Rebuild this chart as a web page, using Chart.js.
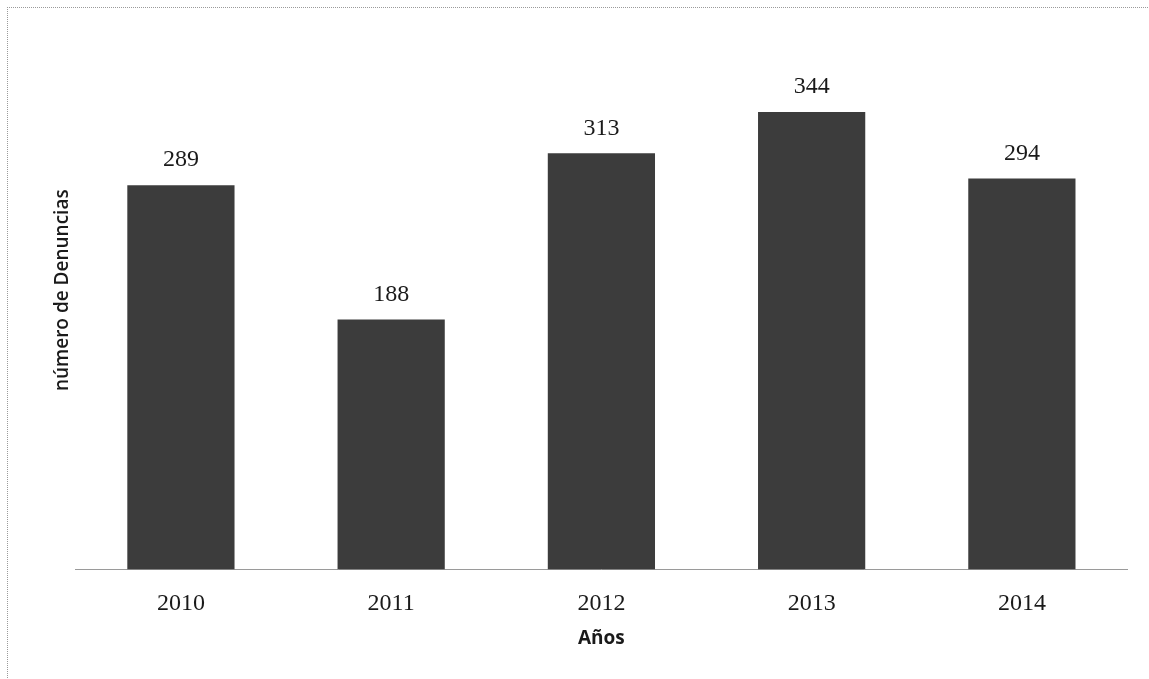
<!DOCTYPE html>
<html>
<head>
<meta charset="utf-8">
<script src="https://cdn.jsdelivr.net/npm/chart.js@4.4.1/dist/chart.umd.min.js"></script>
<style>
  html, body { margin: 0; padding: 0; background: #fff; }
  #wrap {
    position: absolute; left: 7px; top: 7px; width: 1142px; height: 672px;
    border-top: 1px dotted #9a9a9a; border-left: 1px dotted #9a9a9a;
  }
  #holder { position: absolute; left: -8px; top: -8px; width: 1149px; height: 679px; }
</style>
</head>
<body>
<div id="wrap"><div id="holder"><canvas id="chart"></canvas></div></div>
<script>
// Data
const years = ["2010", "2011", "2012", "2013", "2014"];
const denuncias = [289, 188, 313, 344, 294];

const xTitle = "Años";
const yTitle = "número de Denuncias";

const serif = '"Liberation Serif", "DejaVu Serif", serif';
const sans = '"Open Sans", "DejaVu Sans", sans-serif';

// Draw value above each bar
const valueLabels = {
  id: "valueLabels",
  afterDatasetsDraw(chart) {
    const ctx = chart.ctx;
    const meta = chart.getDatasetMeta(0);
    ctx.save();
    ctx.font = "24px " + serif;
    ctx.fillStyle = "#1a1a1a";
    ctx.textAlign = "center";
    ctx.textBaseline = "middle";
    meta.data.forEach((bar, i) => {
      ctx.fillText(String(denuncias[i]), bar.x, bar.y - 25);
    });
    ctx.restore();
  }
};

new Chart(document.getElementById("chart"), {
  type: "bar",
  data: {
    labels: years,
    datasets: [{
      label: yTitle,
      data: denuncias,
      backgroundColor: "#3c3c3c",
      borderWidth: 0,
      categoryPercentage: 1,
      barPercentage: 0.51
    }]
  },
  options: {
    responsive: true,
    maintainAspectRatio: false,
    animation: false,
    layout: {
      padding: { top: 11, right: 22, bottom: 29, left: 47 }
    },
    plugins: {
      legend: { display: false },
      tooltip: { enabled: false }
    },
    scales: {
      x: {
        grid: { display: false, drawTicks: false },
        border: { display: true, color: "#9a9a9a", dash: [2, 2], width: 1 },
        ticks: {
          color: "#1a1a1a",
          padding: 20,
          font: { family: serif, size: 24 }
        },
        title: {
          display: true,
          text: xTitle,
          color: "#1a1a1a",
          padding: { top: -11, bottom: 0 },
          font: { family: sans, size: 19, weight: "bold" }
        }
      },
      y: {
        min: 0,
        max: 420,
        grid: { display: false, drawTicks: false },
        border: { display: false },
        ticks: { display: false },
        title: {
          display: true,
          text: yTitle,
          color: "#1a1a1a",
          padding: { top: 4, bottom: 2 },
          font: { family: sans, size: 19, weight: "600" }
        }
      }
    }
  },
  plugins: [valueLabels]
});
</script>
</body>
</html>
